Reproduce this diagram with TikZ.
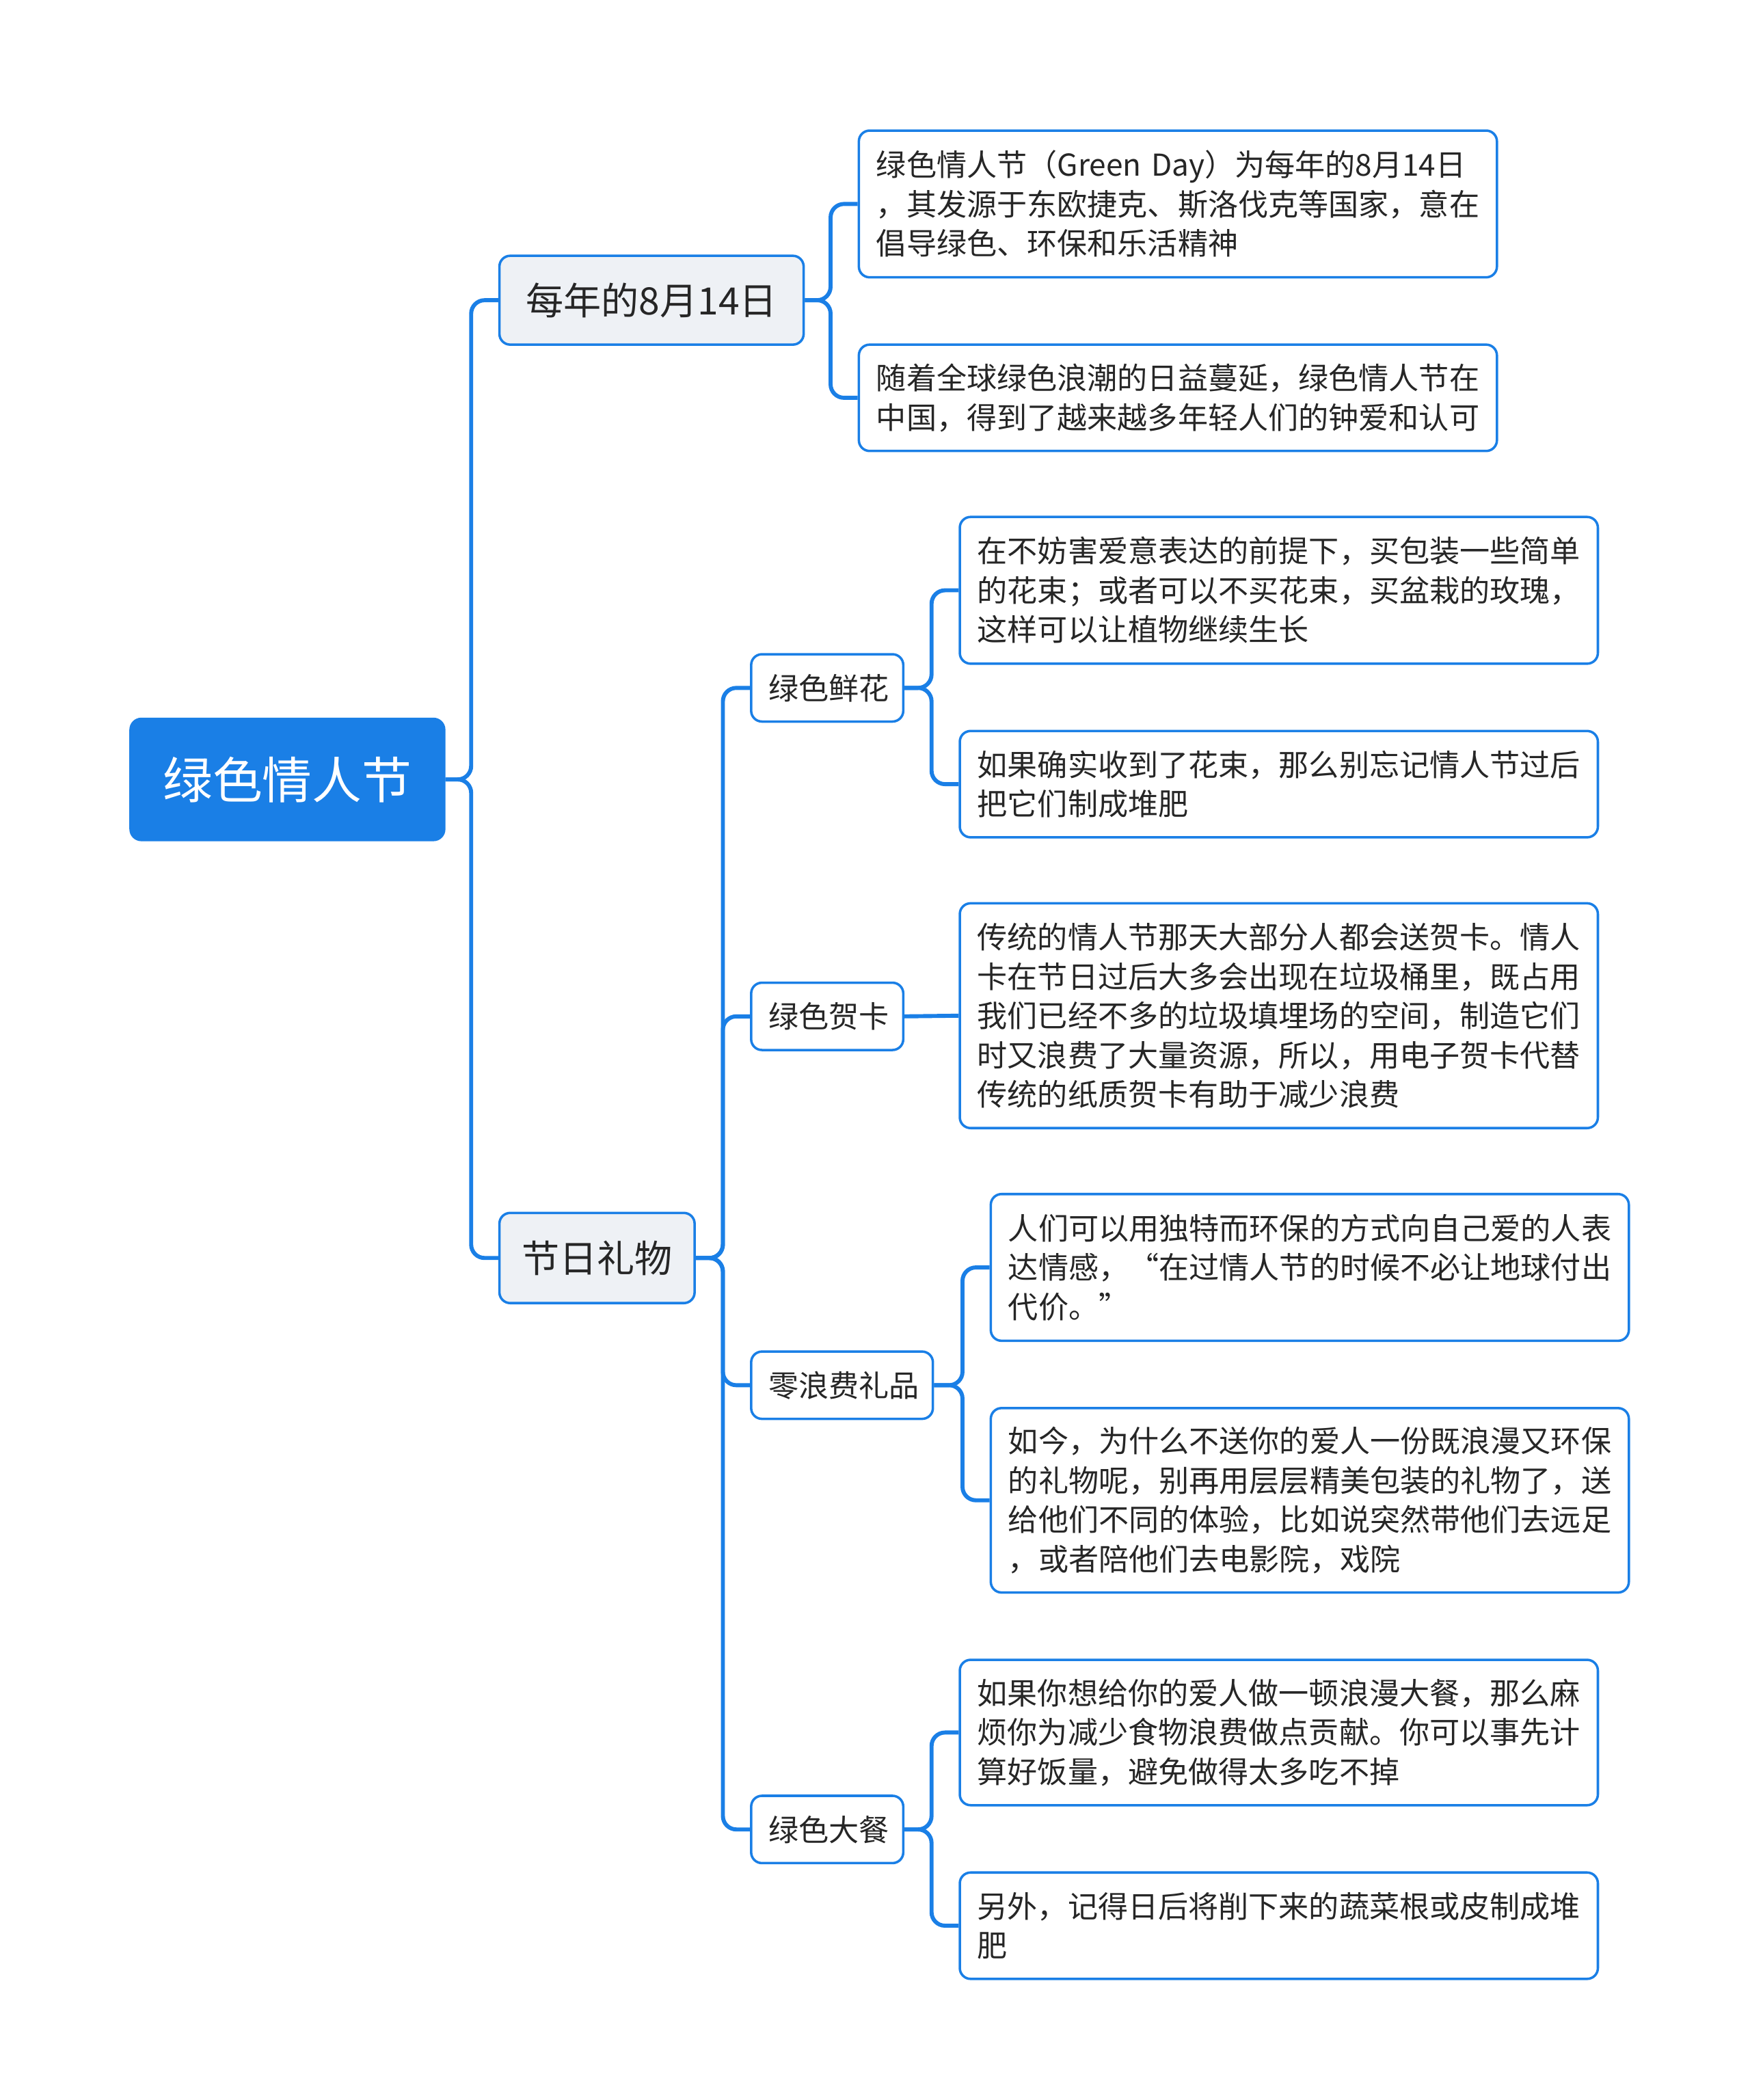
\documentclass[tikz,border=0pt]{standalone}
\usepackage{fontspec}
\setmainfont{Noto Sans CJK SC}
\definecolor{mblue}{HTML}{1A7FE6}
\definecolor{lgray}{HTML}{EEF1F5}
\begin{document}
\begin{tikzpicture}[x=0.5pt,y=-0.5pt,
 base/.style={draw=mblue,rounded corners=4pt,line width=0.9pt,inner sep=0pt,inner xsep=6.5pt},
 rootb/.style={base,fill=mblue,text=white,font=\fontsize{18.5pt}{22pt}\selectfont,align=center},
 lone/.style={base,fill=lgray,text=black!85,font=\fontsize{14pt}{17pt}\selectfont,align=center},
 ltwo/.style={base,fill=white,text=black!85,font=\fontsize{11.2pt}{14pt}\selectfont,align=center},
 leaf/.style={base,fill=white,text=black!85,font=\fontsize{11.2pt}{14.6pt}\selectfont,align=left},
 conn/.style={draw=mblue,line width=1.5pt,rounded corners=5pt}]
\useasboundingbox (0,0) rectangle (1300,1560);
\newcommand\bx[7]{\pgfmathsetmacro\bw{(#4-#2)*0.5}\pgfmathsetmacro\bh{(#5-#3)*0.5}\pgfmathsetmacro\tw{(#4-#2-26)*0.5}%
 \node[#6,minimum width=\bw pt,minimum height=\bh pt,text width=\tw pt] (#1) at ({(#2+#4)/2},{(#3+#5)/2}) {#7};}
\bx{root}{97}{534}{330}{624}{rootb}{绿色情人节}
\bx{a}{371}{190}{597}{256}{lone}{每年的8月14日}
\bx{b}{371}{901}{516}{968}{lone}{节日礼物}
\bx{a1}{638}{97}{1112}{206}{leaf}{绿色情人节（Green Day）为每年的8月14日\\，其发源于东欧捷克、斯洛伐克等国家，意在\\倡导绿色、环保和乐活精神}
\bx{a2}{638}{256}{1112}{335}{leaf}{随着全球绿色浪潮的日益蔓延，绿色情人节在\\中国，得到了越来越多年轻人们的钟爱和认可}
\bx{c1}{558}{486}{671}{536}{ltwo}{绿色鲜花}
\bx{c2}{558}{730}{671}{780}{ltwo}{绿色贺卡}
\bx{c3}{558}{1004}{693}{1054}{ltwo}{零浪费礼品}
\bx{c4}{558}{1334}{671}{1384}{ltwo}{绿色大餐}
\bx{d1}{713}{384}{1187}{493}{leaf}{在不妨害爱意表达的前提下，买包装一些简单\\的花束；或者可以不买花束，买盆栽的玫瑰，\\这样可以让植物继续生长}
\bx{d2}{713}{543}{1187}{622}{leaf}{如果确实收到了花束，那么别忘记情人节过后\\把它们制成堆肥}
\bx{d3}{713}{671}{1187}{838}{leaf}{传统的情人节那天大部分人都会送贺卡。情人\\卡在节日过后大多会出现在垃圾桶里，既占用\\我们已经不多的垃圾填埋场的空间，制造它们\\时又浪费了大量资源，所以，用电子贺卡代替\\传统的纸质贺卡有助于减少浪费}
\bx{d4}{736}{887}{1210}{996}{leaf}{人们可以用独特而环保的方式向自己爱的人表\\达情感，“在过情人节的时候不必让地球付出\\代价。”}
\bx{d5}{736}{1046}{1210}{1183}{leaf}{如今，为什么不送你的爱人一份既浪漫又环保\\的礼物呢，别再用层层精美包装的礼物了，送\\给他们不同的体验，比如说突然带他们去远足\\，或者陪他们去电影院，戏院}
\bx{d6}{713}{1233}{1187}{1341}{leaf}{如果你想给你的爱人做一顿浪漫大餐，那么麻\\烦你为减少食物浪费做点贡献。你可以事先计\\算好饭量，避免做得太多吃不掉}
\bx{d7}{713}{1391}{1187}{1470}{leaf}{另外，记得日后将削下来的蔬菜根或皮制成堆\\肥}
\foreach \p/\c/\x in {root/a/350,root/b/350,a/a1/617,a/a2/617,b/c1/537,b/c2/537,b/c3/537,b/c4/537,c1/d1/692,c1/d2/692,c3/d4/715,c3/d5/715,c4/d6/692,c4/d7/692}
 \draw[conn] (\p.east) -- (\x,0 |- \p.east) |- (\c.west);
\draw[conn] (c2.east) -- (d3.west);
\end{tikzpicture}
\end{document}
